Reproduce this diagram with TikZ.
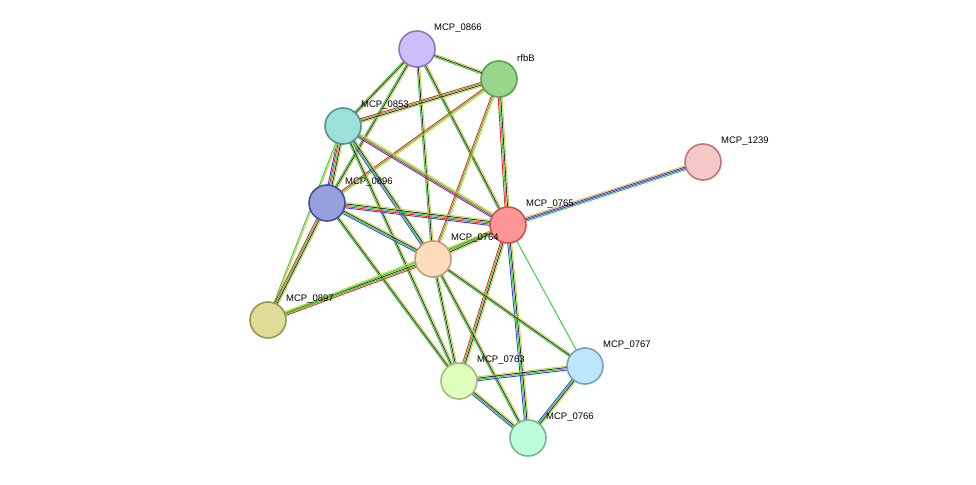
\documentclass[tikz,border=0pt]{standalone}
\usepackage{fontspec}
\setmainfont{Liberation Sans}
\usetikzlibrary{calc,backgrounds}
\definecolor{eg}{HTML}{33CC33}
\definecolor{er}{HTML}{FF2020}
\definecolor{eb}{HTML}{3344FF}
\definecolor{ek}{HTML}{333333}
\definecolor{ey}{HTML}{C8D040}
\definecolor{ep}{HTML}{7030A0}
\newcommand{\stredge}[3]{%
  \foreach \c [count=\i] in {#3} {\global\let\nn\i}%
  \foreach \c [count=\i] in {#3} {%
    \pgfmathsetmacro{\off}{(\i-(\nn+1)/2)*1.3}%
    \draw[line width=0.9pt,\c] ($(#1)!\off pt!90:(#2)$) -- ($(#2)!\off pt!-90:(#1)$);}}
\begin{document}
\begin{tikzpicture}[x=1pt,y=-1pt,
  prot/.style={circle,minimum size=36pt,inner sep=0pt,line width=1.6pt},
  lab/.style={anchor=west,font=\fontsize{9.5}{11}\selectfont,inner sep=0pt}]
\useasboundingbox (0,0) rectangle (976,484);
\node[prot,fill={rgb,255:red,205;green,190;blue,250},draw={rgb,255:red,140;green,120;blue,190}] (n0866) at (417,49) {};
\node[prot,fill={rgb,255:red,150;green,215;blue,140},draw={rgb,255:red,90;green,160;blue,80}] (rfbB) at (499,79) {};
\node[prot,fill={rgb,255:red,155;green,225;blue,215},draw={rgb,255:red,80;green,150;blue,140}] (n0853) at (343,126) {};
\node[prot,fill={rgb,255:red,150;green,160;blue,220},draw={rgb,255:red,70;green,80;blue,150}] (n0896) at (327,203) {};
\node[prot,fill={rgb,255:red,255;green,150;blue,150},draw={rgb,255:red,210;green,80;blue,80}] (n0765) at (508,225) {};
\node[prot,fill={rgb,255:red,245;green,200;blue,200},draw={rgb,255:red,190;green,120;blue,120}] (n1239) at (703,162) {};
\node[prot,fill={rgb,255:red,253;green,220;blue,187},draw={rgb,255:red,190;green,160;blue,120}] (n0764) at (433,259) {};
\node[prot,fill={rgb,255:red,222;green,220;blue,150},draw={rgb,255:red,150;green,150;blue,80}] (n0897) at (268,320) {};
\node[prot,fill={rgb,255:red,222;green,255;blue,190},draw={rgb,255:red,160;green,190;blue,120}] (n0763) at (459,381) {};
\node[prot,fill={rgb,255:red,190;green,230;blue,250},draw={rgb,255:red,120;green,160;blue,190}] (n0767) at (585,366) {};
\node[prot,fill={rgb,255:red,190;green,255;blue,217},draw={rgb,255:red,120;green,180;blue,150}] (n0766) at (528,438) {};
\node[lab] at (434,28) {MCP\_0866};
\node[lab] at (517,58) {rfbB};
\node[lab] at (361,105) {MCP\_0853};
\node[lab] at (345,182) {MCP\_0896};
\node[lab] at (526,204) {MCP\_0765};
\node[lab] at (721,141) {MCP\_1239};
\node[lab] at (451,238) {MCP\_0764};
\node[lab] at (286,299) {MCP\_0897};
\node[lab] at (477,360) {MCP\_0763};
\node[lab] at (603,345) {MCP\_0767};
\node[lab] at (546,417) {MCP\_0766};
\begin{scope}[on background layer]
\fill[white] (0,0) rectangle (976,484);
\stredge{n0866}{rfbB}{eg,ek,ey}
\stredge{n0866}{n0853}{eg,ek,ey}
\stredge{n0866}{n0896}{eg,ek,ey}
\stredge{n0866}{n0765}{eg,ek,ey}
\stredge{n0866}{n0764}{eg,ek,ey}
\stredge{rfbB}{n0853}{er,eg,ek,ey}
\stredge{rfbB}{n0896}{er,eg,ey}
\stredge{rfbB}{n0765}{er,eg,ek,ey}
\stredge{rfbB}{n0764}{er,eg,ey}
\stredge{n0853}{n0896}{eb,er,eg,ek,ey}
\stredge{n0853}{n0765}{eb,er,eg,ey}
\stredge{n0853}{n0764}{eb,eg,ek,ey}
\stredge{n0853}{n0897}{eg,ey}
\stredge{n0853}{n0763}{eg,ek,ey}
\stredge{n0896}{n0765}{eb,er,eg,ek,ey}
\stredge{n0896}{n0764}{eb,eg,ek,ey}
\stredge{n0896}{n0897}{er,eg,ek,ey}
\stredge{n0896}{n0763}{eg,ek,ey}
\stredge{n0765}{n1239}{eg,eb,ep,ey}
\stredge{n0765}{n0764}{er,eg,ek,ey}
\stredge{n0897}{n0764}{er,eg,ek,ey}
\stredge{n0897}{n0765}{eg,ey}
\stredge{n0765}{n0763}{er,eg,ek,ey}
\stredge{n0765}{n0766}{eb,eg,ek,ey}
\stredge{n0765}{n0767}{eg}
\stredge{n0764}{n0763}{eg,ek,ey}
\stredge{n0764}{n0766}{eg,ek,ey}
\stredge{n0764}{n0767}{eg,ek,ey}
\stredge{n0763}{n0767}{eb,eg,ek,ey}
\stredge{n0763}{n0766}{eb,eg,ek,ey}
\stredge{n0767}{n0766}{eb,eg,ek,ey}
\end{scope}
\end{tikzpicture}
\end{document}
